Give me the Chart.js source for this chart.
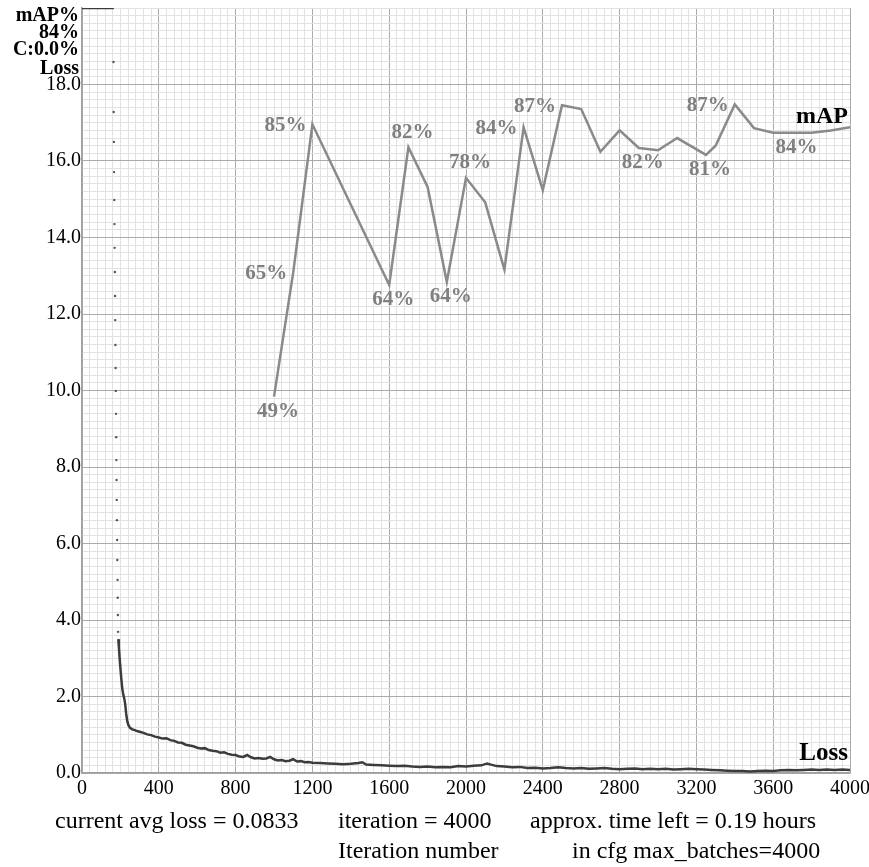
<!DOCTYPE html>
<html>
<head>
<meta charset="utf-8">
<script src="https://cdn.jsdelivr.net/npm/chart.js@4"></script>
<style>
  html, body { margin: 0; padding: 0; background: #fff; }
  #chart { display: block; }
</style>
</head>
<body>
<canvas id="chart" width="869" height="867"></canvas>
<script>
// axis tick labels
const xMajorTicks = [0, 400, 800, 1200, 1600, 2000, 2400, 2800, 3200, 3600, 4000];
const yMajorTicks = [0, 2, 4, 6, 8, 10, 12, 14, 16, 18];

// loss clamped at the top of the chart during the first iterations
const lossTopIter = [0, 166];
const lossTopVal = [20, 20];

// sharp drop: single points
const lossDotIter = [164,165,166,167,168,169,170,171,172,173,174,175,176,177,178,179,180,181,182,183,184,185,186,187,188];
const lossDotVal = [18.59,17.28,16.50,15.71,14.98,14.35,13.73,13.10,12.47,11.84,11.19,10.59,9.99,9.39,8.78,8.18,7.66,7.14,6.61,6.09,5.57,5.05,4.58,4.13,3.69];

// avg loss curve
const lossIter = [
  189,192,196,200,205,210,215,220,225,230,
  236,242,250,262,275,290,305,320,340,360,
  380,400,420,440,460,480,500,520,540,560,
  580,600,620,640,660,680,700,720,740,760,
  780,800,820,840,860,880,900,920,940,960,
  980,1000,1020,1040,1060,1080,1100,1120,1140,1160,
  1180,1200,1240,1280,1320,1360,1400,1440,1460,1480,
  1520,1560,1600,1640,1680,1720,1760,1800,1840,1880,
  1920,1960,2000,2040,2080,2110,2130,2160,2200,2240,
  2280,2320,2360,2400,2440,2480,2520,2560,2600,2640,
  2680,2720,2760,2800,2840,2880,2920,2960,3000,3040,
  3080,3120,3160,3200,3240,3280,3320,3360,3400,3440,
  3480,3520,3560,3600,3640,3680,3720,3760,3800,3840,
  3880,3920,3960,4000
];
const lossVal = [
  3.50,3.30,3.00,2.75,2.45,2.20,2.05,1.95,1.80,1.55,
  1.35,1.25,1.18,1.14,1.12,1.09,1.07,1.05,1.01,0.99,
  0.95,0.93,0.90,0.91,0.86,0.84,0.80,0.79,0.74,0.72,
  0.70,0.66,0.64,0.65,0.60,0.58,0.57,0.53,0.54,0.50,
  0.48,0.47,0.43,0.42,0.47,0.41,0.38,0.39,0.37,0.38,
  0.42,0.36,0.33,0.34,0.31,0.32,0.36,0.30,0.31,0.28,
  0.29,0.27,0.26,0.25,0.24,0.23,0.24,0.26,0.28,0.22,
  0.21,0.20,0.19,0.18,0.19,0.17,0.16,0.17,0.15,0.16,
  0.15,0.18,0.17,0.19,0.20,0.25,0.22,0.18,0.17,0.15,
  0.16,0.13,0.14,0.12,0.13,0.15,0.13,0.12,0.13,0.11,
  0.12,0.13,0.11,0.10,0.11,0.12,0.10,0.11,0.10,0.11,
  0.09,0.10,0.11,0.10,0.09,0.08,0.07,0.06,0.05,0.05,
  0.04,0.05,0.06,0.05,0.07,0.08,0.07,0.08,0.09,0.08,
  0.09,0.08,0.09,0.08
];

// mAP (%) at each evaluation
const mapIter = [1000,1100,1200,1600,1700,1800,1900,2000,2100,2200,2300,2400,2500,2600,2700,2800,2900,3000,3100,3250,3300,3400,3500,3600,3700,3800,3900,4000];
const mapVal = [49.2,65.4,84.8,63.8,81.8,76.6,64.2,77.8,74.6,65.8,84.4,76.2,87.3,86.8,81.2,84.0,81.7,81.4,83.0,80.8,82.0,87.4,84.3,83.7,83.7,83.7,84.0,84.4];
// evaluations that got a % label
const mapLabelIter = [1000,1100,1200,1600,1700,1900,2000,2300,2500,2900,3250,3400,3700];

const headerLines = ['mAP%', '84%', 'C:0.0%', 'Loss'];
const footerTexts = [
  'current avg loss = 0.0833', 'iteration = 4000', 'approx. time left = 0.19 hours',
  'Iteration number', 'in cfg max_batches=4000'
];

const SERIF = '"Liberation Serif", "DejaVu Serif", serif';
const MAJOR = '#ababab';
const MINOR = '#e2e2e2';
const isMajor = (list, v) => list.some(t => Math.abs(t - v) < 1e-6);

const pts = (xs, ys) => xs.map((x, i) => ({x, y: ys[i]}));

// where each % label sits next to its point
const LABEL_SIDE = {1000:'below',1100:'left',1200:'left',1600:'below',1700:'above',1900:'below',
  2000:'above',2300:'left',2500:'left',2900:'below',3250:'below',3400:'left',3700:'below'};

const overlay = {
  id: 'overlay',
  afterDatasetsDraw(chart) {
    const {ctx, chartArea: a, scales: {x, y2}} = chart;
    ctx.save();
    // mAP % labels
    ctx.font = 'bold 21px ' + SERIF;
    ctx.fillStyle = '#808080';
    ctx.textBaseline = 'middle';
    mapLabelIter.forEach(it => {
      const v = mapVal[mapIter.indexOf(it)];
      const px = x.getPixelForValue(it), py = y2.getPixelForValue(v);
      const txt = Math.round(v) + '%';
      const side = LABEL_SIDE[it];
      if (side === 'left') { ctx.textAlign = 'right'; ctx.fillText(txt, px - 6, py + 1); }
      else if (side === 'below') { ctx.textAlign = 'center'; ctx.fillText(txt, px + 4, py + 15); }
      else { ctx.textAlign = 'center'; ctx.fillText(txt, px + 4, py - 15); }
    });
    // series names
    ctx.fillStyle = '#000';
    ctx.textAlign = 'right';
    ctx.textBaseline = 'alphabetic';
    ctx.font = 'bold 24px ' + SERIF;
    ctx.fillText('mAP', a.right - 2, 123);
    ctx.font = 'bold 25px ' + SERIF;
    ctx.fillText('Loss', a.right - 2, 760);
    // header at top-left
    ctx.font = 'bold 20px ' + SERIF;
    const hb = [21, 38, 55, 74];
    headerLines.forEach((t, i) => ctx.fillText(t, a.left - 3, hb[i]));
    // footer
    ctx.textAlign = 'left';
    ctx.font = '24px ' + SERIF;
    ctx.fillText(footerTexts[0], 55, 828);
    ctx.fillText(footerTexts[1], 338, 828);
    ctx.fillText(footerTexts[2], 530, 828);
    ctx.fillText(footerTexts[3], 338, 858);
    ctx.fillText(footerTexts[4], 572, 858);
    ctx.restore();
  }
};

new Chart(document.getElementById('chart'), {
  type: 'line',
  data: {
    datasets: [
      { data: pts(mapIter, mapVal), yAxisID: 'y2', borderColor: '#8a8a8a', borderWidth: 2.5,
        pointRadius: 0, tension: 0 },
      { data: pts(lossTopIter, lossTopVal), yAxisID: 'y', borderColor: '#3c3c3c', borderWidth: 2.5,
        pointRadius: 0 },
      { data: pts(lossDotIter, lossDotVal), yAxisID: 'y', showLine: false, pointRadius: 1.2,
        pointBorderWidth: 0, pointBackgroundColor: '#555' },
      { data: pts(lossIter, lossVal), yAxisID: 'y', borderColor: '#3c3c3c', borderWidth: 2.5,
        pointRadius: 0, tension: 0 }
    ]
  },
  options: {
    responsive: false,
    animation: false,
    devicePixelRatio: 1,
    layout: { padding: { top: 8, right: 19, left: 0, bottom: 0 } },
    plugins: { legend: { display: false }, tooltip: { enabled: false } },
    scales: {
      x: {
        type: 'linear', min: 0, max: 4000,
        ticks: {
          stepSize: 40, autoSkip: false, maxRotation: 0, minRotation: 0, padding: 4,
          color: '#000', font: { family: SERIF, size: 20 },
          callback: v => isMajor(xMajorTicks, v) ? String(v) : ''
        },
        grid: { color: c => isMajor(xMajorTicks, c.tick.value) ? MAJOR : MINOR, drawTicks: false, lineWidth: 1 },
        border: { color: '#a0a0a0', width: 1.5 },
        afterFit: s => { s.height = 94; s.paddingRight = 0; s.paddingLeft = 0; }
      },
      y: {
        min: 0, max: 20,
        ticks: {
          stepSize: 0.2, autoSkip: false, padding: 1,
          color: '#000', font: { family: SERIF, size: 20 },
          callback: v => isMajor(yMajorTicks, v) ? v.toFixed(1) : ''
        },
        grid: { color: c => isMajor(yMajorTicks, c.tick.value) ? MAJOR : MINOR, drawTicks: false, lineWidth: 1 },
        border: { color: '#a0a0a0', width: 1.5 },
        afterFit: s => { s.width = 82; s.paddingTop = 0; s.paddingBottom = 0; }
      },
      y2: { display: false, min: 0, max: 100 }
    }
  },
  plugins: [overlay]
});
</script>
</body>
</html>
